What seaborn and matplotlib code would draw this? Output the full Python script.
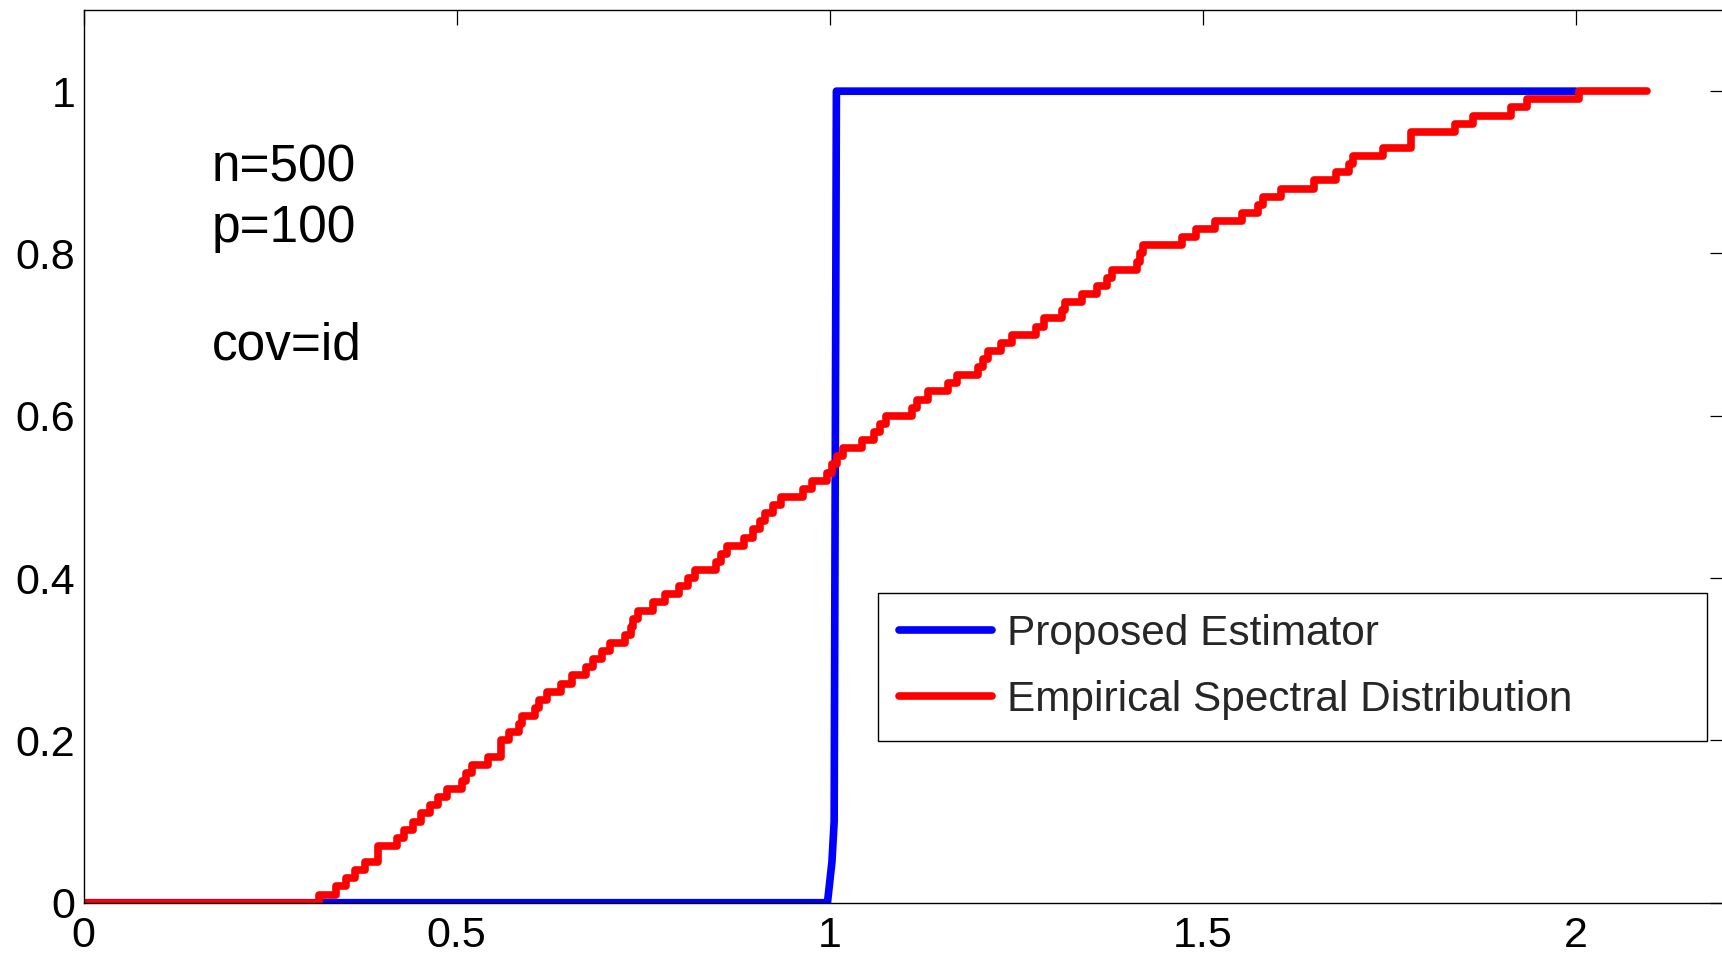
import numpy as np
import pandas as pd
import matplotlib
matplotlib.use("Agg")
import matplotlib.pyplot as plt
import seaborn as sns

# sample eigenvalues (p=100 -> steps of 0.01)
eigs = [
    0.3156, 0.3384, 0.3513, 0.3638, 0.3772, 0.3951, 0.3951, 0.4197, 0.4295, 0.4411,
    0.4518, 0.4643, 0.4755, 0.4867, 0.5068, 0.5122, 0.5202, 0.5425, 0.5595, 0.5595,
    0.5702, 0.5836, 0.5881, 0.6051, 0.6100, 0.6207, 0.6400, 0.6550, 0.6734, 0.6832,
    0.6953, 0.7056, 0.7257, 0.7337, 0.7370, 0.7427, 0.7636, 0.7793, 0.7980, 0.8105,
    0.8195, 0.8483, 0.8550, 0.8619, 0.8856, 0.8976, 0.9066, 0.9133, 0.9236, 0.9343,
    0.9646, 0.9759, 0.9960, 1.0027, 1.0104, 1.0182, 1.0429, 1.0594, 1.0674, 1.0750,
    1.1099, 1.1166, 1.1322, 1.1590, 1.1702, 1.1992, 1.2059, 1.2126, 1.2296, 1.2439,
    1.2760, 1.2876, 1.3117, 1.3153, 1.3385, 1.3578, 1.3712, 1.3779, 1.4114, 1.4158,
    1.4203, 1.4717, 1.4905, 1.5160, 1.5529, 1.5744, 1.5803, 1.6048, 1.6494, 1.6780,
    1.6959, 1.7017, 1.7419, 1.7790, 1.7790, 1.8380, 1.8625, 1.9126, 1.9340, 2.0046]
esd_start = 0.0
esd_end = 2.095

# proposed estimator curve
est_x = [0.0, 0.997, 1.003, 1.006, 1.009, 2.0]
est_y = [0.0, 0.0, 0.05, 0.10, 1.0, 1.0]

xticks = [0, 0.5, 1, 1.5, 2]
xticklabels = ["0", "0.5", "1", "1.5", "2"]
yticks = [0, 0.2, 0.4, 0.6, 0.8, 1]
yticklabels = ["0", "0.2", "0.4", "0.6", "0.8", "1"]

annot = ["n=500", "p=100", "cov=id"]
annot_y = [0.8885, 0.8146, 0.6688]

p = len(eigs)
esd = pd.DataFrame({
    "x": [esd_start] + eigs + [esd_end],
    "F": [0.0] + [(k + 1) / p for k in range(p)] + [1.0],
})
est = pd.DataFrame({"x": est_x, "F": est_y})

sns.set_theme(style="white")
plt.rcParams["font.family"] = ["Liberation Sans", "DejaVu Sans"]

fig = plt.figure(figsize=(17.22, 9.56), dpi=100)
ax = fig.add_axes([83.5 / 1722, 53.3 / 956, 1641.6 / 1722, 892.7 / 956])

sns.lineplot(data=est, x="x", y="F", estimator=None, sort=False, color=(0, 0, 1),
             lw=5.5, solid_joinstyle="round", label="Proposed Estimator", ax=ax)
sns.lineplot(data=esd, x="x", y="F", estimator=None, sort=False, color=(1, 0, 0),
             lw=5.5, drawstyle="steps-post", solid_joinstyle="round",
             label="Empirical Spectral Distribution", ax=ax)

ax.set_xlim(0, 2.2)
ax.set_ylim(0, 1.1)
ax.set_xticks(xticks)
ax.set_xticklabels(xticklabels)
ax.set_yticks(yticks)
ax.set_yticklabels(yticklabels)
ax.set_xlabel("")
ax.set_ylabel("")
for s in ax.spines.values():
    s.set_visible(True)
    s.set_color("black")
    s.set_linewidth(1.0)
ax.tick_params(axis="both", direction="in", length=11, width=0.9, color="black",
               top=True, right=True, labelsize=31, labelcolor="black")
ax.tick_params(axis="x", pad=9.5)
ax.tick_params(axis="y", pad=6)

for txt, yy in zip(annot, annot_y):
    ax.text(0.172, yy, txt, fontsize=37, va="baseline", ha="left", color="black")

leg = ax.legend(loc="upper left", bbox_to_anchor=(0.4837, 0.1867, 0.505, 0.1602),
                mode="expand", fontsize=30.5, frameon=True, fancybox=False,
                framealpha=1, edgecolor="black", handlelength=2.2,
                handletextpad=0.35, borderpad=0.5, labelspacing=0.6,
                borderaxespad=0)
leg.get_frame().set_linewidth(1.0)

fig.savefig("out.png", dpi=100)
